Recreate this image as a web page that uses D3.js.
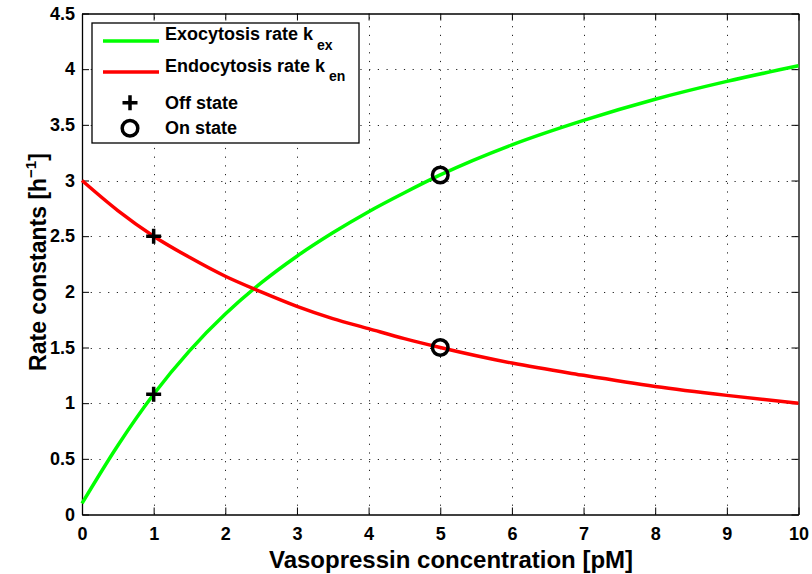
<!DOCTYPE html>
<html>
<head>
<meta charset="utf-8">
<script src="https://cdn.jsdelivr.net/npm/d3@7"></script>
<style>
  html, body { margin: 0; padding: 0; background: #fff; }
  svg { display: block; font-family: "Liberation Sans", Arial, Helvetica, sans-serif; font-weight: bold; }
</style>
</head>
<body>
<svg id="chart" width="812" height="574"></svg>
<script>
// Vasopressin concentration (pM) at which the rates are sampled
const concentration = [0, 0.5, 1, 1.5, 2, 2.5, 3, 3.5, 4, 4.5, 5, 6, 7, 8, 9, 10];
// Exocytosis rate k_ex (1/h)
const exocytosis = [0.1, 0.62, 1.08, 1.47, 1.8, 2.08, 2.32, 2.53, 2.72, 2.89, 3.05, 3.32, 3.54, 3.73, 3.89, 4.03];
// Endocytosis rate k_en (1/h)
const endocytosis = [3.0, 2.73, 2.5, 2.31, 2.14, 2.0, 1.87, 1.76, 1.67, 1.58, 1.5, 1.36, 1.25, 1.15, 1.07, 1.0];
// Marked states
const offState = [{ x: 1, y: 2.5 }, { x: 1, y: 1.08 }];
const onState = [{ x: 5, y: 3.05 }, { x: 5, y: 1.5 }];
// Axis ticks
const xTicks = [0, 1, 2, 3, 4, 5, 6, 7, 8, 9, 10];
const yTicks = [0, 0.5, 1, 1.5, 2, 2.5, 3, 3.5, 4, 4.5];

const svg = d3.select("#chart");
const W = 812, H = 574;
const margin = { left: 82, right: 13.5, top: 13.5, bottom: 59.5 };
const iw = W - margin.left - margin.right;
const ih = H - margin.top - margin.bottom;

const x = d3.scaleLinear().domain([0, 10]).range([margin.left, margin.left + iw]);
const y = d3.scaleLinear().domain([0, 4.5]).range([margin.top + ih, margin.top]);

// dotted grid
const grid = svg.append("g").attr("stroke", "#222").attr("stroke-width", 1).attr("stroke-dasharray", "1.2,7.5");
grid.selectAll(".gx").data(xTicks.slice(1, -1)).enter().append("line")
  .attr("x1", d => Math.round(x(d)) + 0.5).attr("x2", d => Math.round(x(d)) + 0.5)
  .attr("y1", y(0)).attr("y2", y(4.5));
grid.selectAll(".gy").data(yTicks.slice(1, -1)).enter().append("line")
  .attr("y1", d => Math.round(y(d)) + 0.5).attr("y2", d => Math.round(y(d)) + 0.5)
  .attr("x1", x(0)).attr("x2", x(10));

// axes (ticks point inward, mirrored on top and right)
const tl = 7;
const fmt = d => String(d);
const axB = svg.append("g").attr("transform", `translate(0,${y(0)})`)
  .call(d3.axisBottom(x).tickValues(xTicks).tickFormat(fmt).tickSizeInner(-tl).tickSizeOuter(0).tickPadding(13));
const axT = svg.append("g").attr("transform", `translate(0,${y(4.5)})`)
  .call(d3.axisTop(x).tickValues(xTicks).tickFormat("").tickSizeInner(-tl).tickSizeOuter(0));
const axL = svg.append("g").attr("transform", `translate(${x(0)},0)`)
  .call(d3.axisLeft(y).tickValues(yTicks).tickFormat(fmt).tickSizeInner(-tl).tickSizeOuter(0).tickPadding(7));
const axR = svg.append("g").attr("transform", `translate(${x(10)},0)`)
  .call(d3.axisRight(y).tickValues(yTicks).tickFormat("").tickSizeInner(-tl).tickSizeOuter(0));
[axB, axT, axL, axR].forEach(a => {
  a.selectAll("path.domain").attr("stroke", "#000").attr("stroke-width", 1.3);
  a.selectAll(".tick line").attr("stroke", "#000").attr("stroke-width", 1);
  a.selectAll("text").attr("fill", "#000").style("font-size", "18px")
    .style("font-family", "'Liberation Sans', Arial, sans-serif").style("font-weight", "bold");
});

// curves
const line = d3.line().x(d => x(d[0])).y(d => y(d[1])).curve(d3.curveMonotoneX);
svg.append("path").datum(concentration.map((c, i) => [c, exocytosis[i]]))
  .attr("d", line).attr("fill", "none").attr("stroke", "#00ff00").attr("stroke-width", 3.5);
svg.append("path").datum(concentration.map((c, i) => [c, endocytosis[i]]))
  .attr("d", line).attr("fill", "none").attr("stroke", "#ff0000").attr("stroke-width", 3.5);

// markers
const plus = (g, cx, cy) => {
  g.append("path").attr("d", `M${cx - 7.5},${cy}H${cx + 7.5}M${cx},${cy - 7.5}V${cy + 7.5}`)
    .attr("stroke", "#000").attr("stroke-width", 3.5).attr("fill", "none");
};
const ring = (g, cx, cy) => {
  g.append("circle").attr("cx", cx).attr("cy", cy).attr("r", 7.8)
    .attr("stroke", "#000").attr("stroke-width", 3.5).attr("fill", "none");
};
const marks = svg.append("g");
offState.forEach(d => plus(marks, x(d.x), y(d.y)));
onState.forEach(d => ring(marks, x(d.x), y(d.y)));

// legend
const lg = svg.append("g");
lg.append("rect").attr("x", 92).attr("y", 23).attr("width", 267).attr("height", 120)
  .attr("fill", "#fff").attr("stroke", "#000").attr("stroke-width", 1.3);
const legendItems = [
  { kind: "line", color: "#00ff00", label: "Exocytosis rate k", sub: "ex", cy: 41, base: 40 },
  { kind: "line", color: "#ff0000", label: "Endocytosis rate k", sub: "en", cy: 72, base: 71.5 },
  { kind: "plus", label: "Off state", cy: 102.7, base: 108.7 },
  { kind: "ring", label: "On state", cy: 128.3, base: 134.3 }
];
legendItems.forEach(it => {
  if (it.kind === "line") {
    lg.append("line").attr("x1", 103).attr("x2", 159).attr("y1", it.cy).attr("y2", it.cy)
      .attr("stroke", it.color).attr("stroke-width", 3.5);
  } else if (it.kind === "plus") {
    plus(lg, 130, it.cy);
  } else {
    ring(lg, 130, it.cy);
  }
  const t = lg.append("text").attr("x", 165).attr("y", it.base).style("font-size", "18px").attr("fill", "#000");
  t.append("tspan").text(it.label);
  if (it.sub) t.append("tspan").attr("dy", 9.5).attr("dx", 4).style("font-size", "14px").text(it.sub);
});

// axis titles
svg.append("text").attr("x", 451).attr("y", 568).attr("text-anchor", "middle")
  .style("font-size", "24px").attr("fill", "#000").text("Vasopressin concentration [pM]");
const yt = svg.append("text").attr("transform", `translate(46,262) rotate(-90)`)
  .attr("text-anchor", "middle").style("font-size", "23px").attr("fill", "#000");
yt.append("tspan").text("Rate constants [h");
yt.append("tspan").attr("dy", -10).style("font-size", "15px").text("\u22121");
yt.append("tspan").attr("dy", 10).text("]");
</script>
</body>
</html>
